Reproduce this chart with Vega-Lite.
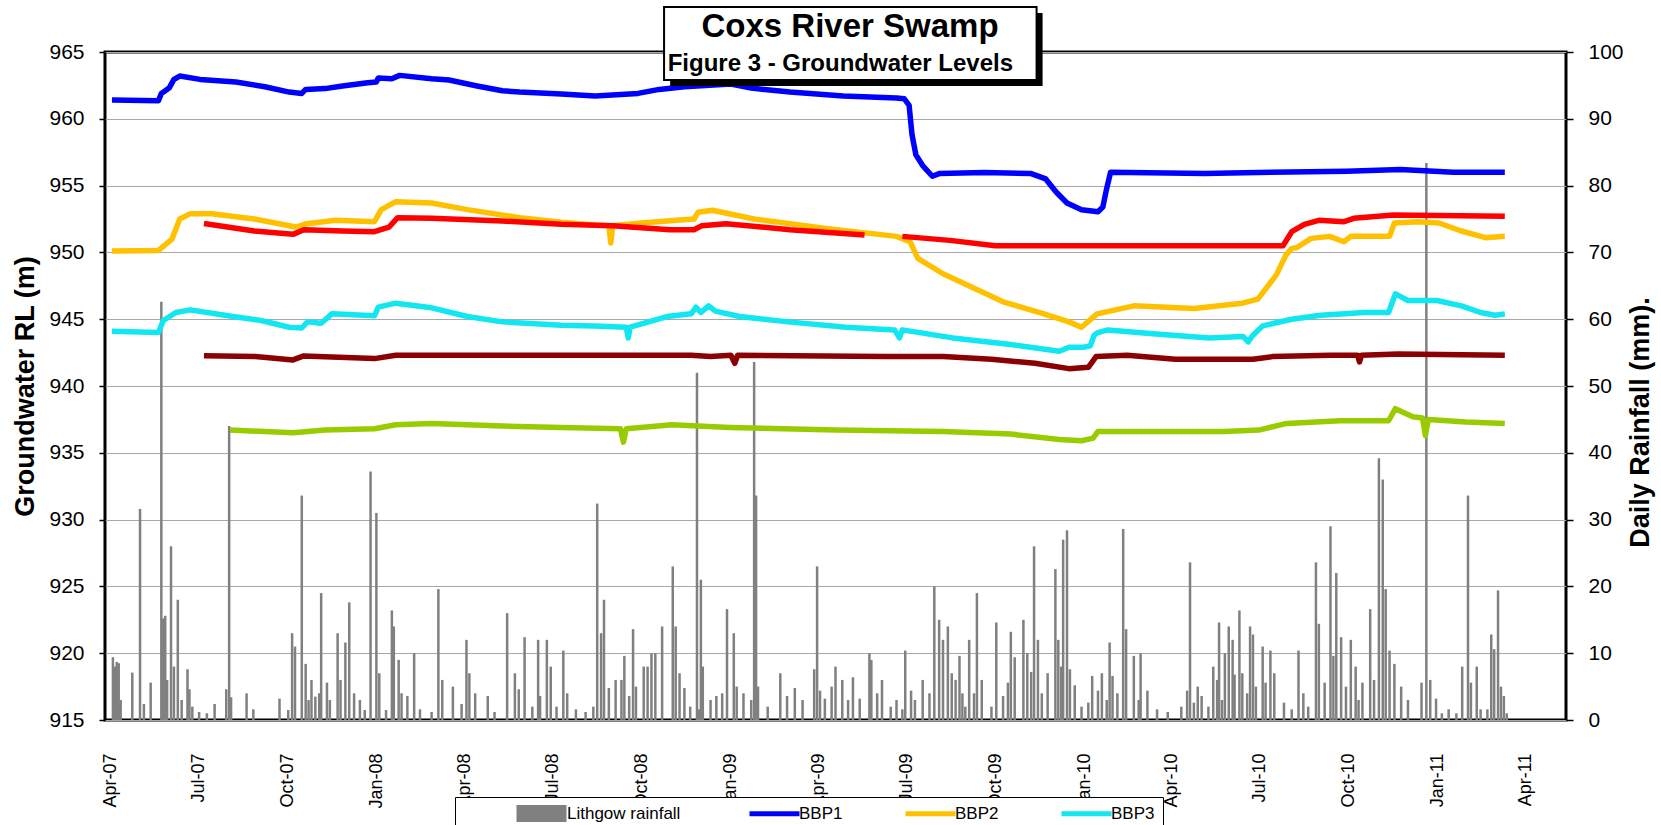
{
  "$schema": "https://vega.github.io/schema/vega-lite/v6.json",
  "width": 1461,
  "height": 668,
  "autosize": {"type": "none"},
  "padding": {"left": 105, "top": 52, "right": 95, "bottom": 105},
  "background": "white",
  "config": {
    "font": "Liberation Sans",
    "view": {"stroke": "black", "strokeWidth": 3},
    "axis": {"labelFont": "Liberation Sans", "titleFont": "Liberation Sans", "labelColor": "black", "titleColor": "black", "domain": false},
    "legend": {"labelFont": "Liberation Sans"}
  },
  "datasets": {
    "rain": [
      {"date":"2007-04-04","mm":9.4},{"date":"2007-04-06","mm":8.0},{"date":"2007-04-08","mm":8.7},{"date":"2007-04-10","mm":8.5},{"date":"2007-04-12","mm":3.0},
      {"date":"2007-04-24","mm":7.1},{"date":"2007-05-02","mm":31.6},{"date":"2007-05-06","mm":2.4},{"date":"2007-05-13","mm":5.6},{"date":"2007-05-24","mm":62.6},
      {"date":"2007-05-26","mm":15.2},{"date":"2007-05-28","mm":15.6},{"date":"2007-05-30","mm":6.0},{"date":"2007-06-03","mm":26.0},{"date":"2007-06-06","mm":8.0},
      {"date":"2007-06-10","mm":18.0},{"date":"2007-06-14","mm":3.0},{"date":"2007-06-20","mm":7.6},{"date":"2007-06-22","mm":4.6},{"date":"2007-06-25","mm":2.0},
      {"date":"2007-07-02","mm":1.2},{"date":"2007-07-10","mm":1.0},{"date":"2007-07-18","mm":2.4},{"date":"2007-07-30","mm":4.6},{"date":"2007-08-02","mm":44.0},
      {"date":"2007-08-04","mm":3.4},{"date":"2007-08-20","mm":4.0},{"date":"2007-08-27","mm":1.6},{"date":"2007-09-23","mm":3.2},{"date":"2007-10-02","mm":1.5},
      {"date":"2007-10-06","mm":13.0},{"date":"2007-10-09","mm":11.0},{"date":"2007-10-16","mm":33.6},{"date":"2007-10-20","mm":8.4},{"date":"2007-10-23","mm":3.0},
      {"date":"2007-10-26","mm":6.0},{"date":"2007-10-30","mm":3.5},{"date":"2007-11-03","mm":4.0},{"date":"2007-11-05","mm":19.0},{"date":"2007-11-11","mm":5.6},
      {"date":"2007-11-14","mm":3.0},{"date":"2007-11-22","mm":13.0},{"date":"2007-11-25","mm":6.0},{"date":"2007-11-30","mm":11.6},{"date":"2007-12-04","mm":17.6},
      {"date":"2007-12-09","mm":4.0},{"date":"2007-12-15","mm":3.0},{"date":"2007-12-20","mm":1.5},{"date":"2007-12-26","mm":37.2},{"date":"2008-01-01","mm":31.0},
      {"date":"2008-01-04","mm":7.0},{"date":"2008-01-11","mm":1.5},{"date":"2008-01-17","mm":16.4},{"date":"2008-01-19","mm":14.0},{"date":"2008-01-24","mm":9.0},
      {"date":"2008-01-27","mm":4.0},{"date":"2008-02-02","mm":3.6},{"date":"2008-02-09","mm":10.0},{"date":"2008-02-15","mm":1.6},{"date":"2008-02-27","mm":1.2},
      {"date":"2008-03-05","mm":19.6},{"date":"2008-03-09","mm":6.0},{"date":"2008-03-20","mm":5.0},{"date":"2008-03-29","mm":2.4},{"date":"2008-04-03","mm":12.0},
      {"date":"2008-04-06","mm":7.0},{"date":"2008-04-12","mm":4.0},{"date":"2008-04-25","mm":3.6},{"date":"2008-05-02","mm":1.2},{"date":"2008-05-15","mm":16.0},
      {"date":"2008-05-23","mm":7.0},{"date":"2008-05-27","mm":4.6},{"date":"2008-06-02","mm":12.4},{"date":"2008-06-10","mm":2.0},{"date":"2008-06-16","mm":12.0},
      {"date":"2008-06-18","mm":3.6},{"date":"2008-06-25","mm":12.0},{"date":"2008-06-29","mm":8.0},{"date":"2008-07-05","mm":2.0},{"date":"2008-07-12","mm":10.4},
      {"date":"2008-07-16","mm":4.0},{"date":"2008-07-25","mm":1.6},{"date":"2008-08-04","mm":1.2},{"date":"2008-08-12","mm":2.0},{"date":"2008-08-16","mm":32.4},
      {"date":"2008-08-20","mm":13.0},{"date":"2008-08-23","mm":18.0},{"date":"2008-08-28","mm":4.8},{"date":"2008-09-04","mm":6.0},{"date":"2008-09-10","mm":6.0},
      {"date":"2008-09-13","mm":9.6},{"date":"2008-09-18","mm":3.6},{"date":"2008-09-22","mm":13.6},{"date":"2008-09-25","mm":5.0},{"date":"2008-10-03","mm":8.0},
      {"date":"2008-10-07","mm":8.0},{"date":"2008-10-11","mm":10.0},{"date":"2008-10-15","mm":10.0},{"date":"2008-10-22","mm":14.0},{"date":"2008-11-27","mm":52.0},
      {"date":"2008-11-02","mm":23.0},{"date":"2008-11-05","mm":14.0},{"date":"2008-11-09","mm":7.0},{"date":"2008-11-14","mm":4.8},{"date":"2008-11-20","mm":2.0},
      {"date":"2008-11-29","mm":1.6},{"date":"2008-12-01","mm":21.0},{"date":"2008-12-03","mm":8.0},{"date":"2008-12-11","mm":3.0},{"date":"2008-12-17","mm":3.6},
      {"date":"2008-12-23","mm":4.0},{"date":"2008-12-28","mm":16.6},{"date":"2009-01-25","mm":53.6},{"date":"2009-01-27","mm":33.6},{"date":"2009-01-04","mm":13.0},
      {"date":"2009-01-07","mm":5.0},{"date":"2009-01-14","mm":4.0},{"date":"2009-01-22","mm":3.0},{"date":"2009-01-29","mm":5.0},{"date":"2009-02-08","mm":2.0},
      {"date":"2009-02-21","mm":7.0},{"date":"2009-02-28","mm":3.6},{"date":"2009-03-08","mm":4.8},{"date":"2009-03-16","mm":3.0},{"date":"2009-03-28","mm":7.6},
      {"date":"2009-03-31","mm":23.0},{"date":"2009-04-03","mm":4.4},{"date":"2009-04-08","mm":3.2},{"date":"2009-04-15","mm":5.0},{"date":"2009-04-19","mm":8.0},
      {"date":"2009-04-26","mm":6.0},{"date":"2009-05-02","mm":3.0},{"date":"2009-05-07","mm":6.4},{"date":"2009-05-14","mm":3.2},{"date":"2009-05-24","mm":10.0},
      {"date":"2009-05-26","mm":9.0},{"date":"2009-06-01","mm":4.0},{"date":"2009-06-06","mm":6.0},{"date":"2009-06-15","mm":2.0},{"date":"2009-06-21","mm":3.0},
      {"date":"2009-06-27","mm":1.6},{"date":"2009-06-30","mm":10.4},{"date":"2009-07-06","mm":4.4},{"date":"2009-07-10","mm":3.0},{"date":"2009-07-18","mm":6.0},
      {"date":"2009-07-25","mm":4.0},{"date":"2009-07-30","mm":20.0},{"date":"2009-08-04","mm":15.0},{"date":"2009-08-08","mm":12.0},{"date":"2009-08-13","mm":14.0},
      {"date":"2009-08-17","mm":7.0},{"date":"2009-08-21","mm":6.0},{"date":"2009-08-25","mm":9.6},{"date":"2009-08-28","mm":4.0},{"date":"2009-08-31","mm":2.0},
      {"date":"2009-09-04","mm":12.0},{"date":"2009-09-09","mm":4.0},{"date":"2009-09-12","mm":19.0},{"date":"2009-09-17","mm":6.0},{"date":"2009-09-27","mm":2.0},
      {"date":"2009-10-02","mm":14.6},{"date":"2009-10-09","mm":3.6},{"date":"2009-10-14","mm":5.6},{"date":"2009-10-17","mm":13.2},{"date":"2009-10-21","mm":9.4},
      {"date":"2009-10-30","mm":15.0},{"date":"2009-11-03","mm":10.0},{"date":"2009-11-07","mm":7.2},{"date":"2009-11-10","mm":26.0},{"date":"2009-11-14","mm":12.0},
      {"date":"2009-11-18","mm":4.0},{"date":"2009-11-24","mm":7.0},{"date":"2009-12-02","mm":22.6},{"date":"2009-12-05","mm":12.0},{"date":"2009-12-08","mm":8.0},
      {"date":"2009-12-10","mm":27.0},{"date":"2009-12-14","mm":28.4},{"date":"2009-12-17","mm":7.6},{"date":"2009-12-22","mm":5.2},{"date":"2009-12-29","mm":2.0},
      {"date":"2010-01-05","mm":2.6},{"date":"2010-01-09","mm":6.6},{"date":"2010-01-15","mm":4.4},{"date":"2010-01-19","mm":7.0},{"date":"2010-01-24","mm":3.0},
      {"date":"2010-01-27","mm":11.6},{"date":"2010-01-30","mm":6.6},{"date":"2010-02-04","mm":4.0},{"date":"2010-02-10","mm":28.6},{"date":"2010-02-13","mm":13.6},
      {"date":"2010-02-21","mm":9.6},{"date":"2010-02-26","mm":3.0},{"date":"2010-02-28","mm":10.0},{"date":"2010-03-07","mm":4.4},{"date":"2010-03-17","mm":1.6},
      {"date":"2010-03-28","mm":1.2},{"date":"2010-04-11","mm":2.0},{"date":"2010-04-17","mm":4.4},{"date":"2010-04-20","mm":23.6},{"date":"2010-04-24","mm":2.6},
      {"date":"2010-04-28","mm":5.0},{"date":"2010-05-02","mm":3.6},{"date":"2010-05-09","mm":2.0},{"date":"2010-05-14","mm":8.0},{"date":"2010-05-18","mm":6.0},
      {"date":"2010-05-20","mm":14.6},{"date":"2010-05-23","mm":3.0},{"date":"2010-05-26","mm":10.0},{"date":"2010-05-30","mm":14.0},{"date":"2010-06-03","mm":12.0},
      {"date":"2010-06-05","mm":6.8},{"date":"2010-06-10","mm":16.4},{"date":"2010-06-13","mm":7.0},{"date":"2010-06-18","mm":4.0},{"date":"2010-06-21","mm":14.0},
      {"date":"2010-06-24","mm":12.8},{"date":"2010-06-27","mm":5.0},{"date":"2010-07-04","mm":11.0},{"date":"2010-07-07","mm":5.6},{"date":"2010-07-12","mm":10.4},
      {"date":"2010-07-16","mm":7.0},{"date":"2010-07-26","mm":2.6},{"date":"2010-08-03","mm":1.6},{"date":"2010-08-10","mm":10.4},{"date":"2010-08-15","mm":4.0},
      {"date":"2010-08-20","mm":2.0},{"date":"2010-08-28","mm":23.6},{"date":"2010-08-31","mm":14.4},{"date":"2010-09-06","mm":5.6},{"date":"2010-09-12","mm":29.0},
      {"date":"2010-09-15","mm":9.6},{"date":"2010-09-18","mm":22.0},{"date":"2010-09-23","mm":12.4},{"date":"2010-09-28","mm":5.0},{"date":"2010-10-03","mm":12.0},
      {"date":"2010-10-08","mm":8.0},{"date":"2010-10-11","mm":3.0},{"date":"2010-10-15","mm":5.6},{"date":"2010-10-23","mm":16.6},{"date":"2010-10-27","mm":6.0},
      {"date":"2010-11-01","mm":39.2},{"date":"2010-11-05","mm":36.0},{"date":"2010-11-08","mm":19.6},{"date":"2010-11-12","mm":10.4},{"date":"2010-11-17","mm":8.4},
      {"date":"2010-11-24","mm":5.0},{"date":"2010-12-01","mm":3.0},{"date":"2010-12-15","mm":5.6},{"date":"2010-12-20","mm":83.4},{"date":"2010-12-24","mm":6.0},
      {"date":"2010-12-30","mm":3.2},{"date":"2011-01-05","mm":1.0},{"date":"2011-01-12","mm":1.6},{"date":"2011-01-20","mm":1.0},{"date":"2011-01-26","mm":8.0},
      {"date":"2011-02-01","mm":33.6},{"date":"2011-02-04","mm":5.6},{"date":"2011-02-10","mm":8.0},{"date":"2011-02-14","mm":1.6},{"date":"2011-02-21","mm":1.6},
      {"date":"2011-02-25","mm":12.8},{"date":"2011-02-28","mm":10.6},{"date":"2011-03-04","mm":19.4},{"date":"2011-03-07","mm":5.0},{"date":"2011-03-10","mm":3.6},
      {"date":"2011-03-13","mm":1.0}
    ],
    "levels": [
      {"series":"BBP1","date":"2007-04-03","rl":961.4},{"series":"BBP1","date":"2007-05-21","rl":961.35},{"series":"BBP1","date":"2007-05-24","rl":961.9},
      {"series":"BBP1","date":"2007-06-01","rl":962.3},{"series":"BBP1","date":"2007-06-06","rl":962.95},{"series":"BBP1","date":"2007-06-12","rl":963.2},
      {"series":"BBP1","date":"2007-07-03","rl":962.95},{"series":"BBP1","date":"2007-08-09","rl":962.75},{"series":"BBP1","date":"2007-09-08","rl":962.4},
      {"series":"BBP1","date":"2007-10-03","rl":962.0},{"series":"BBP1","date":"2007-10-16","rl":961.9},{"series":"BBP1","date":"2007-10-20","rl":962.2},
      {"series":"BBP1","date":"2007-11-09","rl":962.26},{"series":"BBP1","date":"2007-11-27","rl":962.46},{"series":"BBP1","date":"2007-12-23","rl":962.7},
      {"series":"BBP1","date":"2008-01-01","rl":962.75},{"series":"BBP1","date":"2008-01-03","rl":963.05},{"series":"BBP1","date":"2008-01-17","rl":963.0},
      {"series":"BBP1","date":"2008-01-25","rl":963.25},{"series":"BBP1","date":"2008-02-27","rl":963.0},{"series":"BBP1","date":"2008-03-16","rl":962.9},
      {"series":"BBP1","date":"2008-04-14","rl":962.46},{"series":"BBP1","date":"2008-05-10","rl":962.1},{"series":"BBP1","date":"2008-05-28","rl":962.0},
      {"series":"BBP1","date":"2008-07-10","rl":961.85},{"series":"BBP1","date":"2008-08-14","rl":961.7},{"series":"BBP1","date":"2008-09-27","rl":961.9},
      {"series":"BBP1","date":"2008-10-19","rl":962.2},{"series":"BBP1","date":"2008-11-14","rl":962.4},{"series":"BBP1","date":"2009-01-01","rl":962.6},
      {"series":"BBP1","date":"2009-01-22","rl":962.3},{"series":"BBP1","date":"2009-03-03","rl":962.0},{"series":"BBP1","date":"2009-04-27","rl":961.7},
      {"series":"BBP1","date":"2009-06-21","rl":961.55},{"series":"BBP1","date":"2009-06-29","rl":961.5},{"series":"BBP1","date":"2009-07-04","rl":961.0},
      {"series":"BBP1","date":"2009-07-07","rl":958.8},{"series":"BBP1","date":"2009-07-11","rl":957.3},{"series":"BBP1","date":"2009-07-18","rl":956.5},
      {"series":"BBP1","date":"2009-07-28","rl":955.7},{"series":"BBP1","date":"2009-08-04","rl":955.9},{"series":"BBP1","date":"2009-09-20","rl":955.98},
      {"series":"BBP1","date":"2009-11-07","rl":955.9},{"series":"BBP1","date":"2009-11-22","rl":955.5},{"series":"BBP1","date":"2009-12-03","rl":954.5},
      {"series":"BBP1","date":"2009-12-14","rl":953.7},{"series":"BBP1","date":"2009-12-29","rl":953.2},{"series":"BBP1","date":"2010-01-15","rl":953.05},
      {"series":"BBP1","date":"2010-01-20","rl":953.4},{"series":"BBP1","date":"2010-01-24","rl":954.8},{"series":"BBP1","date":"2010-01-28","rl":956.0},
      {"series":"BBP1","date":"2010-05-05","rl":955.9},{"series":"BBP1","date":"2010-06-29","rl":955.98},{"series":"BBP1","date":"2010-09-29","rl":956.08},
      {"series":"BBP1","date":"2010-11-23","rl":956.2},{"series":"BBP1","date":"2011-01-17","rl":956.0},{"series":"BBP1","date":"2011-03-11","rl":956.0},

      {"series":"BBP2","date":"2007-04-03","rl":950.1},{"series":"BBP2","date":"2007-05-21","rl":950.15},{"series":"BBP2","date":"2007-06-04","rl":951.0},
      {"series":"BBP2","date":"2007-06-12","rl":952.5},{"series":"BBP2","date":"2007-06-23","rl":952.9},{"series":"BBP2","date":"2007-07-15","rl":952.9},
      {"series":"BBP2","date":"2007-08-28","rl":952.5},{"series":"BBP2","date":"2007-10-10","rl":951.9},{"series":"BBP2","date":"2007-10-21","rl":952.15},
      {"series":"BBP2","date":"2007-11-20","rl":952.4},{"series":"BBP2","date":"2007-12-30","rl":952.3},{"series":"BBP2","date":"2008-01-06","rl":953.2},
      {"series":"BBP2","date":"2008-01-21","rl":953.8},{"series":"BBP2","date":"2008-02-27","rl":953.7},{"series":"BBP2","date":"2008-04-04","rl":953.2},
      {"series":"BBP2","date":"2008-05-28","rl":952.6},{"series":"BBP2","date":"2008-07-10","rl":952.25},{"series":"BBP2","date":"2008-08-14","rl":952.05},
      {"series":"BBP2","date":"2008-08-28","rl":952.0},{"series":"BBP2","date":"2008-08-30","rl":950.7},{"series":"BBP2","date":"2008-09-01","rl":952.0},
      {"series":"BBP2","date":"2008-10-01","rl":952.2},{"series":"BBP2","date":"2008-11-06","rl":952.4},{"series":"BBP2","date":"2008-11-24","rl":952.5},
      {"series":"BBP2","date":"2008-11-28","rl":953.0},{"series":"BBP2","date":"2008-12-13","rl":953.15},{"series":"BBP2","date":"2009-01-25","rl":952.5},
      {"series":"BBP2","date":"2009-04-09","rl":951.8},{"series":"BBP2","date":"2009-06-21","rl":951.2},{"series":"BBP2","date":"2009-07-05","rl":950.8},
      {"series":"BBP2","date":"2009-07-13","rl":949.55},{"series":"BBP2","date":"2009-08-08","rl":948.4},{"series":"BBP2","date":"2009-10-09","rl":946.3},
      {"series":"BBP2","date":"2009-11-16","rl":945.5},{"series":"BBP2","date":"2009-12-16","rl":944.8},{"series":"BBP2","date":"2009-12-29","rl":944.4},
      {"series":"BBP2","date":"2010-01-14","rl":945.4},{"series":"BBP2","date":"2010-02-21","rl":946.0},{"series":"BBP2","date":"2010-04-24","rl":945.8},
      {"series":"BBP2","date":"2010-06-13","rl":946.2},{"series":"BBP2","date":"2010-06-29","rl":946.5},{"series":"BBP2","date":"2010-07-18","rl":948.3},
      {"series":"BBP2","date":"2010-07-28","rl":949.8},{"series":"BBP2","date":"2010-08-03","rl":950.3},{"series":"BBP2","date":"2010-08-08","rl":950.35},
      {"series":"BBP2","date":"2010-08-23","rl":951.05},{"series":"BBP2","date":"2010-09-11","rl":951.2},{"series":"BBP2","date":"2010-09-26","rl":950.8},
      {"series":"BBP2","date":"2010-10-03","rl":951.2},{"series":"BBP2","date":"2010-11-12","rl":951.2},{"series":"BBP2","date":"2010-11-17","rl":952.2},
      {"series":"BBP2","date":"2010-12-11","rl":952.3},{"series":"BBP2","date":"2011-01-02","rl":952.2},{"series":"BBP2","date":"2011-01-25","rl":951.6},
      {"series":"BBP2","date":"2011-02-19","rl":951.1},{"series":"BBP2","date":"2011-03-11","rl":951.2},

      {"series":"BBP3","date":"2007-04-03","rl":944.1},{"series":"BBP3","date":"2007-05-21","rl":944.0},{"series":"BBP3","date":"2007-05-26","rl":944.9},
      {"series":"BBP3","date":"2007-06-08","rl":945.5},{"series":"BBP3","date":"2007-06-23","rl":945.7},{"series":"BBP3","date":"2007-08-06","rl":945.2},
      {"series":"BBP3","date":"2007-09-04","rl":944.9},{"series":"BBP3","date":"2007-10-03","rl":944.4},{"series":"BBP3","date":"2007-10-16","rl":944.35},
      {"series":"BBP3","date":"2007-10-22","rl":944.8},{"series":"BBP3","date":"2007-11-05","rl":944.7},{"series":"BBP3","date":"2007-11-16","rl":945.4},
      {"series":"BBP3","date":"2007-12-30","rl":945.25},{"series":"BBP3","date":"2008-01-03","rl":945.9},{"series":"BBP3","date":"2008-01-21","rl":946.2},
      {"series":"BBP3","date":"2008-02-27","rl":945.85},{"series":"BBP3","date":"2008-04-04","rl":945.2},{"series":"BBP3","date":"2008-05-10","rl":944.8},
      {"series":"BBP3","date":"2008-07-10","rl":944.55},{"series":"BBP3","date":"2008-08-13","rl":944.5},{"series":"BBP3","date":"2008-09-15","rl":944.4},
      {"series":"BBP3","date":"2008-09-17","rl":943.6},{"series":"BBP3","date":"2008-09-19","rl":944.4},{"series":"BBP3","date":"2008-10-27","rl":945.2},
      {"series":"BBP3","date":"2008-11-21","rl":945.4},{"series":"BBP3","date":"2008-11-26","rl":945.9},{"series":"BBP3","date":"2008-12-01","rl":945.5},
      {"series":"BBP3","date":"2008-12-09","rl":946.0},{"series":"BBP3","date":"2008-12-16","rl":945.6},{"series":"BBP3","date":"2009-01-10","rl":945.2},
      {"series":"BBP3","date":"2009-03-01","rl":944.8},{"series":"BBP3","date":"2009-04-30","rl":944.4},{"series":"BBP3","date":"2009-06-19","rl":944.2},
      {"series":"BBP3","date":"2009-06-24","rl":943.6},{"series":"BBP3","date":"2009-06-27","rl":944.2},{"series":"BBP3","date":"2009-08-18","rl":943.6},
      {"series":"BBP3","date":"2009-10-17","rl":943.1},{"series":"BBP3","date":"2009-12-06","rl":942.6},{"series":"BBP3","date":"2009-12-16","rl":942.9},
      {"series":"BBP3","date":"2009-12-31","rl":942.9},{"series":"BBP3","date":"2010-01-07","rl":943.0},{"series":"BBP3","date":"2010-01-11","rl":943.8},
      {"series":"BBP3","date":"2010-01-15","rl":944.0},{"series":"BBP3","date":"2010-01-25","rl":944.2},{"series":"BBP3","date":"2010-03-16","rl":943.9},
      {"series":"BBP3","date":"2010-05-10","rl":943.6},{"series":"BBP3","date":"2010-06-14","rl":943.7},{"series":"BBP3","date":"2010-06-19","rl":943.3},
      {"series":"BBP3","date":"2010-06-24","rl":943.8},{"series":"BBP3","date":"2010-07-04","rl":944.5},{"series":"BBP3","date":"2010-08-03","rl":945.0},
      {"series":"BBP3","date":"2010-09-02","rl":945.3},{"series":"BBP3","date":"2010-10-17","rl":945.5},{"series":"BBP3","date":"2010-11-11","rl":945.5},
      {"series":"BBP3","date":"2010-11-18","rl":946.9},{"series":"BBP3","date":"2010-12-01","rl":946.4},{"series":"BBP3","date":"2010-12-31","rl":946.4},
      {"series":"BBP3","date":"2011-01-25","rl":946.0},{"series":"BBP3","date":"2011-02-14","rl":945.5},{"series":"BBP3","date":"2011-03-01","rl":945.3},
      {"series":"BBP3","date":"2011-03-11","rl":945.4},

      {"series":"BBP4","date":"2007-07-07","rl":952.17},{"series":"BBP4","date":"2007-08-28","rl":951.6},{"series":"BBP4","date":"2007-10-07","rl":951.35},
      {"series":"BBP4","date":"2007-10-18","rl":951.7},{"series":"BBP4","date":"2007-11-27","rl":951.6},{"series":"BBP4","date":"2007-12-30","rl":951.55},
      {"series":"BBP4","date":"2008-01-14","rl":951.9},{"series":"BBP4","date":"2008-01-23","rl":952.6},{"series":"BBP4","date":"2008-02-27","rl":952.55},
      {"series":"BBP4","date":"2008-05-10","rl":952.35},{"series":"BBP4","date":"2008-07-10","rl":952.1},{"series":"BBP4","date":"2008-09-01","rl":952.0},
      {"series":"BBP4","date":"2008-10-30","rl":951.7},{"series":"BBP4","date":"2008-11-24","rl":951.7},{"series":"BBP4","date":"2008-12-02","rl":952.0},
      {"series":"BBP4","date":"2008-12-27","rl":952.15},{"series":"BBP4","date":"2009-03-03","rl":951.7},{"series":"BBP4","date":"2009-05-19","rl":951.3},
      {"series":"BBP4","seg":2,"date":"2009-06-27","rl":951.2},{"series":"BBP4","seg":2,"date":"2009-08-15","rl":950.9},{"series":"BBP4","seg":2,"date":"2009-10-01","rl":950.5},
      {"series":"BBP4","seg":2,"date":"2010-01-15","rl":950.5},{"series":"BBP4","seg":2,"date":"2010-07-25","rl":950.5},{"series":"BBP4","seg":2,"date":"2010-08-03","rl":951.55},
      {"series":"BBP4","seg":2,"date":"2010-08-16","rl":952.1},{"series":"BBP4","seg":2,"date":"2010-08-31","rl":952.4},{"series":"BBP4","seg":2,"date":"2010-09-26","rl":952.3},
      {"series":"BBP4","seg":2,"date":"2010-10-06","rl":952.55},{"series":"BBP4","seg":2,"date":"2010-11-16","rl":952.8},{"series":"BBP4","seg":2,"date":"2011-03-11","rl":952.7},

      {"series":"BBP5","date":"2007-07-07","rl":942.26},{"series":"BBP5","date":"2007-08-29","rl":942.2},{"series":"BBP5","date":"2007-10-07","rl":941.95},
      {"series":"BBP5","date":"2007-10-18","rl":942.25},{"series":"BBP5","date":"2007-12-30","rl":942.05},{"series":"BBP5","date":"2008-01-21","rl":942.3},
      {"series":"BBP5","date":"2008-07-10","rl":942.3},{"series":"BBP5","date":"2008-11-21","rl":942.3},{"series":"BBP5","date":"2008-12-11","rl":942.2},
      {"series":"BBP5","date":"2009-01-01","rl":942.3},{"series":"BBP5","date":"2009-01-05","rl":941.7},{"series":"BBP5","date":"2009-01-08","rl":942.3},
      {"series":"BBP5","date":"2009-06-09","rl":942.2},{"series":"BBP5","date":"2009-08-08","rl":942.2},{"series":"BBP5","date":"2009-09-27","rl":942.0},
      {"series":"BBP5","date":"2009-11-11","rl":941.7},{"series":"BBP5","date":"2009-12-16","rl":941.3},{"series":"BBP5","date":"2010-01-05","rl":941.4},
      {"series":"BBP5","date":"2010-01-13","rl":942.2},{"series":"BBP5","date":"2010-02-14","rl":942.3},{"series":"BBP5","date":"2010-04-05","rl":942.0},
      {"series":"BBP5","date":"2010-06-24","rl":942.0},{"series":"BBP5","date":"2010-07-14","rl":942.2},{"series":"BBP5","date":"2010-09-12","rl":942.3},
      {"series":"BBP5","date":"2010-10-10","rl":942.3},{"series":"BBP5","date":"2010-10-12","rl":941.8},{"series":"BBP5","date":"2010-10-14","rl":942.3},
      {"series":"BBP5","date":"2010-11-21","rl":942.4},{"series":"BBP5","date":"2011-03-11","rl":942.3},

      {"series":"BBP6","date":"2007-08-03","rl":936.7},{"series":"BBP6","date":"2007-10-07","rl":936.5},{"series":"BBP6","date":"2007-11-09","rl":936.7},
      {"series":"BBP6","date":"2007-12-30","rl":936.8},{"series":"BBP6","date":"2008-01-21","rl":937.1},{"series":"BBP6","date":"2008-02-27","rl":937.2},
      {"series":"BBP6","date":"2008-05-10","rl":937.0},{"series":"BBP6","date":"2008-07-10","rl":936.9},{"series":"BBP6","date":"2008-09-09","rl":936.8},
      {"series":"BBP6","date":"2008-09-12","rl":935.8},{"series":"BBP6","date":"2008-09-15","rl":936.8},{"series":"BBP6","date":"2008-11-01","rl":937.1},
      {"series":"BBP6","date":"2008-12-31","rl":936.9},{"series":"BBP6","date":"2009-04-20","rl":936.7},{"series":"BBP6","date":"2009-08-08","rl":936.6},
      {"series":"BBP6","date":"2009-10-17","rl":936.4},{"series":"BBP6","date":"2009-12-06","rl":936.0},{"series":"BBP6","date":"2009-12-29","rl":935.9},
      {"series":"BBP6","date":"2010-01-10","rl":936.1},{"series":"BBP6","date":"2010-01-15","rl":936.6},{"series":"BBP6","date":"2010-03-26","rl":936.6},
      {"series":"BBP6","date":"2010-05-25","rl":936.6},{"series":"BBP6","date":"2010-06-30","rl":936.7},{"series":"BBP6","date":"2010-07-29","rl":937.2},
      {"series":"BBP6","date":"2010-09-22","rl":937.4},{"series":"BBP6","date":"2010-11-11","rl":937.4},{"series":"BBP6","date":"2010-11-18","rl":938.3},
      {"series":"BBP6","date":"2010-12-06","rl":937.7},{"series":"BBP6","date":"2010-12-16","rl":937.6},{"series":"BBP6","date":"2010-12-19","rl":936.3},
      {"series":"BBP6","date":"2010-12-22","rl":937.5},{"series":"BBP6","date":"2011-01-30","rl":937.3},{"series":"BBP6","date":"2011-03-11","rl":937.2}
    ]
  },
  "layer": [
    {
      "data": {"name": "rain"},
      "mark": {"type": "bar", "width": 2.5},
      "encoding": {
        "x": {
          "field": "date", "type": "temporal",
          "scale": {"type": "utc", "domain": [{"year": 2007, "month": 4, "date": 1, "utc": true}, {"year": 2011, "month": 5, "date": 8, "utc": true}]},
          "axis": {
            "values": [1175385600000, 1183248000000, 1191196800000, 1199145600000, 1207008000000, 1214870400000, 1222819200000, 1230768000000, 1238544000000, 1246406400000, 1254355200000, 1262304000000, 1270080000000, 1277942400000, 1285891200000, 1293840000000, 1301616000000],
            "labelExpr": "utcFormat(datum.value, '%b-%y')",
            "labelAngle": -90, "labelFontSize": 18, "labelPadding": 33,
            "ticks": false, "grid": false, "title": null,
            "labelOverlap": false, "labelBound": false, "labelFlush": false
          }
        },
        "y": {
          "field": "mm", "type": "quantitative",
          "scale": {"domain": [0, 100], "nice": false},
          "axis": {
            "orient": "right", "values": [0, 10, 20, 30, 40, 50, 60, 70, 80, 90, 100],
            "title": "Daily Rainfall (mm).", "titleFontSize": 27, "titleFontWeight": "bold",
            "titleAngle": -90, "titleBaseline": "top", "titlePadding": 4, "titleY": 370,
            "labelFontSize": 21, "labelPadding": 15, "tickSize": 7, "tickColor": "black", "tickWidth": 1.5,
            "grid": false, "labelFlush": false
          }
        },
        "fill": {
          "datum": "Lithgow rainfall", "type": "nominal",
          "scale": {"domain": ["Lithgow rainfall"], "range": ["#808080"]},
          "legend": {
            "orient": "none", "legendX": 408, "legendY": 753, "zindex": 2,
            "title": null, "padding": 0,
            "labelFontSize": 17, "labelColor": "black",
            "symbolType": "M-5,-1.7H5V1.7H-5Z", "symbolSize": 100, "symbolOffset": 20, "labelOffset": 17,
            "symbolStrokeWidth": 0
          }
        }
      }
    },
    {
      "data": {"name": "levels"},
      "mark": {"type": "line", "strokeWidth": 5.5, "strokeJoin": "round"},
      "encoding": {
        "x": {"field": "date", "type": "temporal"},
        "y": {
          "field": "rl", "type": "quantitative",
          "scale": {"domain": [915, 965], "nice": false, "zero": false},
          "axis": {
            "orient": "left", "values": [915, 920, 925, 930, 935, 940, 945, 950, 955, 960, 965],
            "title": "Groundwater RL (m)", "titleFontSize": 27, "titleFontWeight": "bold", "titlePadding": 9,
            "labelFontSize": 21, "labelPadding": 15, "tickSize": 6, "tickColor": "black", "tickWidth": 1.5,
            "grid": true, "gridColor": "#a8a8a8", "gridWidth": 1.2, "labelFlush": false
          }
        },
        "color": {
          "field": "series", "type": "nominal",
          "scale": {
            "domain": ["BBP1", "BBP2", "BBP3", "BBP4", "BBP5", "BBP6"],
            "range": ["#0000ff", "#ffc000", "#12e6f0", "#ff0000", "#8b0000", "#99cc00"]
          },
          "legend": {
            "orient": "none", "legendX": 350, "legendY": 745, "zindex": 1,
            "direction": "horizontal", "columns": 3,
            "title": " ", "titleOrient": "left", "titlePadding": 283,
            "padding": 8, "columnPadding": 52, "rowPadding": 10,
            "labelFontSize": 17, "labelColor": "black",
            "symbolType": "M-5,0H5", "symbolSize": 100, "symbolStrokeWidth": 5, "symbolOffset": 20, "labelOffset": 16,
            "strokeColor": "black", "fillColor": "white"
          }
        },
        "detail": {"field": "seg", "type": "nominal"}
      }
    },
    {
      "data": {"values": [{}]},
      "mark": {"type": "rect", "fill": "black"},
      "encoding": {
        "x": {"datum": {"year": 2008, "month": 10, "date": 30, "hours": 7, "utc": true}, "type": "temporal"},
        "x2": {"datum": {"year": 2009, "month": 11, "date": 18, "hours": 19, "utc": true}},
        "y": {"datum": 967.92, "type": "quantitative", "scale": {"domain": [915, 965], "nice": false, "zero": false}, "axis": null},
        "y2": {"datum": 962.46}
      }
    },
    {
      "data": {"values": [{}]},
      "mark": {"type": "rect", "fill": "white", "stroke": "black", "strokeWidth": 2},
      "encoding": {
        "x": {"datum": {"year": 2008, "month": 10, "date": 24, "utc": true}, "type": "temporal"},
        "x2": {"datum": {"year": 2009, "month": 11, "date": 12, "hours": 14, "utc": true}},
        "y": {"datum": 968.37, "type": "quantitative", "scale": {"domain": [915, 965], "nice": false, "zero": false}, "axis": null},
        "y2": {"datum": 962.9}
      }
    },
    {
      "data": {"values": [{}]},
      "mark": {"type": "text", "text": "Coxs River Swamp", "fontSize": 33, "fontWeight": "bold", "font": "Liberation Sans", "align": "center", "baseline": "alphabetic", "color": "black"},
      "encoding": {
        "x": {"datum": {"year": 2009, "month": 5, "date": 4, "utc": true}, "type": "temporal"},
        "y": {"datum": 966.1, "type": "quantitative", "scale": {"domain": [915, 965], "nice": false, "zero": false}, "axis": null}
      }
    },
    {
      "data": {"values": [{}]},
      "mark": {"type": "text", "text": "Figure 3 - Groundwater Levels", "fontSize": 24, "fontWeight": "bold", "font": "Liberation Sans", "align": "center", "baseline": "alphabetic", "color": "black"},
      "encoding": {
        "x": {"datum": {"year": 2009, "month": 4, "date": 24, "utc": true}, "type": "temporal"},
        "y": {"datum": 963.58, "type": "quantitative", "scale": {"domain": [915, 965], "nice": false, "zero": false}, "axis": null}
      }
    }
  ],
  "resolve": {"scale": {"y": "independent"}, "axis": {"y": "independent"}}
}
